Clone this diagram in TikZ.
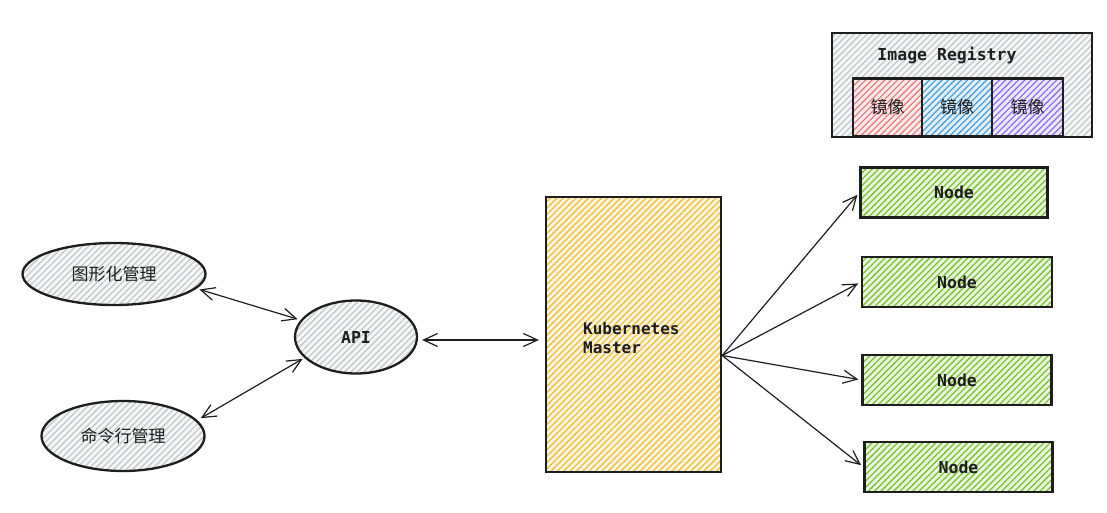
\documentclass[tikz,border=0pt]{standalone}
\usepackage{fontspec}
\setmonofont{DejaVu Sans Mono}
\newfontfamily\cjk{Noto Sans CJK SC}
\usetikzlibrary{arrows.meta,shapes.geometric,patterns.meta}
\definecolor{skTinta}{HTML}{1E1E1E}
\definecolor{skGris}{HTML}{C4C8CC}
\definecolor{skAmarillo}{HTML}{F2BE3C}
\definecolor{skVerde}{HTML}{7CC232}
\definecolor{skRojo}{HTML}{EC7F82}
\definecolor{skAzul}{HTML}{4E9FDB}
\definecolor{skMorado}{HTML}{8E72EC}

\begin{document}
\begin{tikzpicture}[x=1pt, y=-1pt,
      hatch/.style={draw=skTinta, line width=2.3pt, preaction={fill=#1!16},
                    pattern={Lines[angle=45,distance=4.5pt,line width=1.3pt]}, pattern color=#1},
      blob/.style={hatch=skGris, ellipse, inner sep=0pt, text=skTinta,
                   font=\cjk\fontsize{17}{19}\selectfont},
      caja/.style={hatch=#1, rectangle, inner sep=0pt, text=skTinta,
                   font=\ttfamily\bfseries\fontsize{16.5}{19}\selectfont},
      img/.style={hatch=#1, rectangle, inner sep=0pt, minimum height=58pt, text=skTinta,
                  font=\cjk\fontsize{17}{19}\selectfont},
      flecha/.style={draw=skTinta, line width=1.2pt,
                     -{Straight Barb[length=14pt,width=13pt,line width=1.2pt]}},
      dflecha/.style={flecha, {Straight Barb[length=14pt,width=13pt,line width=1.2pt]}-{Straight Barb[length=14pt,width=13pt,line width=1.2pt]}}]
    \useasboundingbox (0,0) rectangle (1107,513);
    % registro de imagenes
    \node[caja=skGris, minimum width=260pt, minimum height=104pt] (reg) at (962,85) {};
    \node[text=skTinta, font=\ttfamily\bfseries\fontsize{16.5}{19}\selectfont] (regt) at (947,56) {Image Registry};
    \node[img=skRojo, minimum width=69pt]   (im1) at (887.5,107.5) {镜像};
    \node[img=skAzul, minimum width=70pt]   (im2) at (957,107.5) {镜像};
    \node[img=skMorado, minimum width=71pt] (im3) at (1027.5,107.5) {镜像};
    % clientes
    \node[blob, minimum width=183pt, minimum height=62pt] (gui) at (114,274) {图形化管理};
    \node[blob, minimum width=163pt, minimum height=70pt] (cli) at (123,436) {命令行管理};
    \node[blob, font=\ttfamily\bfseries\fontsize{16.5}{19}\selectfont,
          minimum width=122pt, minimum height=73pt] (api) at (356,337) {API};
    % master
    \node[caja=skAmarillo, minimum width=175pt, minimum height=275pt] (master) at (633.5,334.5) {};
    \node[anchor=west, align=left, text=skTinta, inner sep=0pt,
          font=\ttfamily\bfseries\fontsize{16}{19.5}\selectfont] (mtxt) at (583,338) {Kubernetes\\Master};
    % nodos
    \node[caja=skVerde, minimum width=187pt, minimum height=50pt] (n1) at (954,192.5) {Node};
    \node[caja=skVerde, minimum width=190pt, minimum height=50pt] (n2) at (957,282) {Node};
    \node[caja=skVerde, minimum width=189pt, minimum height=50pt] (n3) at (957,380) {Node};
    \node[caja=skVerde, minimum width=188pt, minimum height=50pt] (n4) at (958.5,467) {Node};
    % conexiones
    \draw[dflecha, shorten <=3pt, shorten >=3pt] (gui.-10) -- (api.163);
    \draw[dflecha, shorten <=4pt, shorten >=2pt] (cli.12) -- (api.202);
    \draw[dflecha, shorten <=4pt, shorten >=6pt] ([yshift=-3pt]api.east) -- ([yshift=-3pt]api.east -| master.west);
    \coordinate (fan) at ([yshift=-21pt]master.east);
    \foreach \n in {n1,n2,n3,n4}
      \draw[flecha, shorten >=3pt] (fan) -- (\n.west);
  \end{tikzpicture}
\end{document}
